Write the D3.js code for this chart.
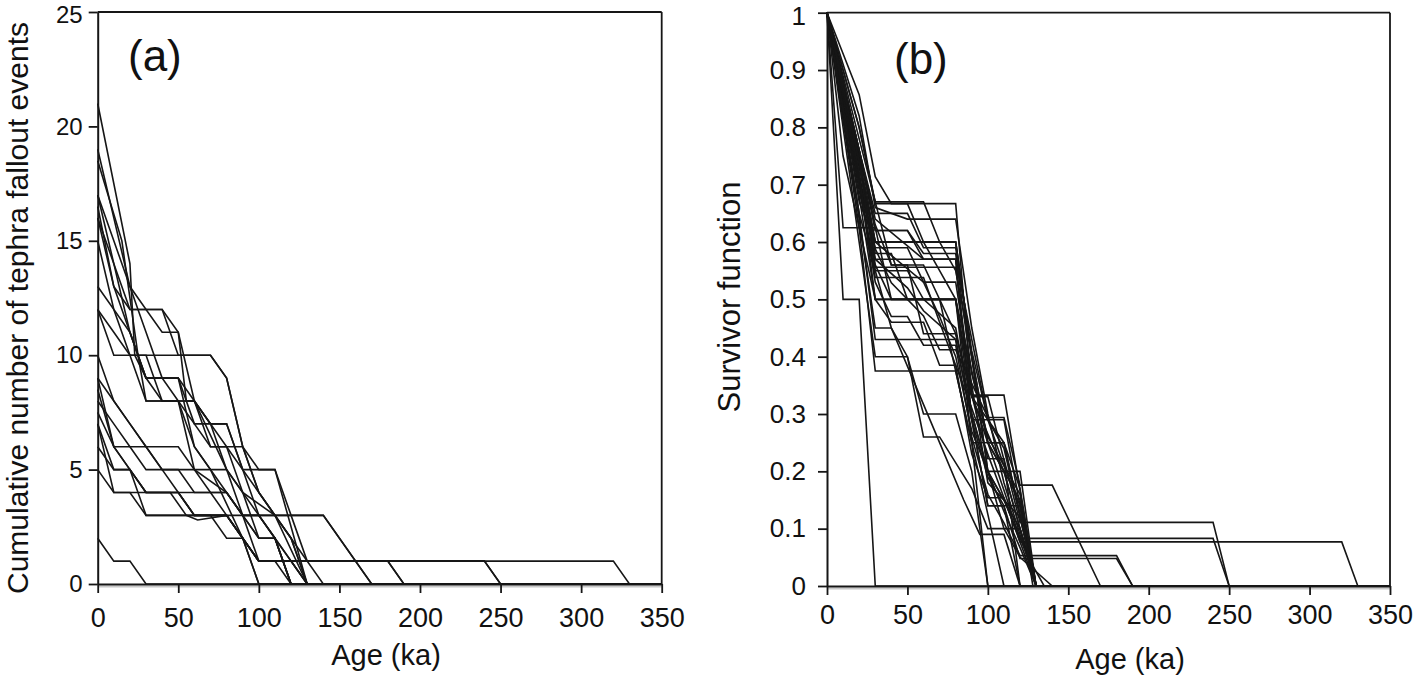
<!DOCTYPE html>
<html>
<head>
<meta charset="utf-8">
<script src="https://cdn.jsdelivr.net/npm/d3@7/dist/d3.min.js"></script>
<style>
  html, body { margin: 0; padding: 0; background: #fff; }
  svg { display: block; }
  text { font-family: "Liberation Sans", Arial, sans-serif; fill: #111; }
</style>
</head>
<body>
<svg id="chart" width="1416" height="682"></svg>
<script>
// ---------- DATA ----------
const ageTicks = [0, 50, 100, 150, 200, 250, 300, 350];
const countTicks = [0, 5, 10, 15, 20, 25];
const survTicks = [0, 0.1, 0.2, 0.3, 0.4, 0.5, 0.6, 0.7, 0.8, 0.9, 1];

const panelLabels = ["(a)", "(b)"];
const xTitle = "Age (ka)";
const yTitleA = "Cumulative number of tephra fallout events";
const yTitleB = "Survivor function";

// Panel (a): cumulative number of tephra fallout events, [age ka, count]
const cumA01 = [[0,21],[20,14],[23,10],[30,9],[40,8],[50,8],[60,6],[80,4],[90,3],[100,2],[110,2],[120,0]];
const cumA02 = [[0,19],[10,16],[20,13],[30,12],[40,12],[50,11],[55,8],[60,8],[70,7],[80,7],[90,5],[100,4],[110,3],[120,2],[130,0]];
const cumA03 = [[0,18.5],[15,15],[25,10],[30,8],[50,8],[60,5],[70,4],[80,4],[90,3],[100,1],[240,1],[250,0]];
const cumA04 = [[0,17],[10,15],[20,13],[25,12],[30,11],[40,9],[50,9],[60,8],[80,6],[90,6],[100,5],[110,5],[130,0]];
const cumA05 = [[0,16.5],[10,13],[20,11],[30,9],[50,9],[60,7],[80,7],[100,3],[140,3],[170,0]];
const cumA06 = [[0,16],[10,14],[20,12],[30,12],[40,11],[50,11],[60,8],[70,6],[80,6],[90,4],[100,3],[110,2],[130,0]];
const cumA07 = [[0,15],[10,12],[20,10],[30,8],[40,8],[60,8],[80,5],[90,3],[100,3],[110,2],[120,0]];
const cumA08 = [[0,13],[20,11],[30,9],[40,9],[50,9],[60,6],[70,5],[90,2],[100,1],[180,1],[190,0]];
const cumA09 = [[0,12],[10,10],[70,10],[80,9],[90,6],[100,4],[110,3],[120,2],[130,0]];
const cumA10 = [[0,10],[10,8],[20,7],[30,6],[40,5],[50,4],[60,3],[70,3],[80,3],[90,2],[100,0]];
const cumA11 = [[0,9],[10,8],[20,7],[30,6],[40,5],[50,5],[60,4],[70,4],[80,3],[100,1],[320,1],[330,0]];
const cumA12 = [[0,8.5],[10,6],[50,6],[60,5],[80,4],[90,3],[100,3],[110,2],[120,0]];
const cumA13 = [[0,8],[10,7],[20,6],[30,5],[80,5],[90,4],[100,2],[110,2],[120,0]];
const cumA14 = [[0,7.5],[10,6],[20,5],[30,4],[80,4],[90,3],[100,2],[110,2],[120,1],[130,0]];
const cumA15 = [[0,7],[10,5],[20,5],[30,3],[80,3],[90,2],[100,1],[240,1],[250,0]];
const cumA16 = [[0,7],[10,4],[20,4],[30,3],[60,3],[80,3],[90,2],[100,1],[110,1],[120,0]];
const cumA17 = [[0,6],[10,5],[20,5],[30,4],[50,4],[60,3],[70,3],[80,2],[90,2],[100,0]];
const cumA18 = [[0,5],[10,4],[45,4],[55,3],[62,2.8],[80,3],[90,2],[100,1],[120,1],[130,0]];
const cumA19 = [[0,2],[10,1],[20,1],[30,0]];
const cumA20 = [[0,17],[10,14],[20,11],[30,9],[40,9],[50,8],[60,7],[70,6],[80,6],[90,5],[100,5],[110,5],[120,3],[130,1],[180,1],[190,0]];
const cumA21 = [[0,9],[10,6],[20,5],[30,4],[50,4],[60,3],[80,3],[90,3],[100,3],[140,3],[170,0]];
const cumA22 = [[0,12],[10,11],[20,10],[30,10],[40,8],[60,8],[70,7],[80,5],[90,4],[110,3],[120,2],[140,0]];
const cumA23 = [[0,16],[10,13],[20,12],[30,12],[40,12],[50,10],[70,10],[80,9],[90,6],[100,4],[110,3],[130,0]];

const seriesA = [cumA01,cumA02,cumA03,cumA04,cumA05,cumA06,cumA07,cumA08,cumA09,cumA10,cumA11,cumA12,
                 cumA13,cumA14,cumA15,cumA16,cumA17,cumA18,cumA19,cumA20,cumA21,cumA22,cumA23];

// Panel (b): survivor function, [age ka, S]
const survB01 = [[0,1],[10,0.5],[20,0.5],[30,0]];
const survB02 = [[0,1],[20,0.857],[30,0.714],[40,0.667],[80,0.667],[90,0.333],[110,0.333],[130,0]];
const survB03 = [[0,1],[10,0.625],[30,0.625],[40,0.5],[80,0.5],[90,0.25],[110,0.25],[120,0.125],[130,0]];
const survB04 = [[0,1],[20,0.8],[30,0.667],[50,0.667],[60,0.6],[80,0.6],[90,0.4],[100,0.2],[120,0.2],[130,0]];
const survB05 = [[0,1],[20,0.76],[30,0.62],[50,0.62],[60,0.57],[80,0.57],[90,0.29],[110,0.29],[120,0.14],[130,0]];
const survB06 = [[0,1],[20,0.74],[30,0.6],[80,0.6],[90,0.4],[100,0.25],[110,0.2],[120,0.1],[130,0]];
const survB07 = [[0,1],[20,0.7],[30,0.59],[50,0.59],[60,0.53],[80,0.53],[90,0.35],[100,0.18],[120,0.12],[130,0]];
const survB08 = [[0,1],[20,0.72],[30,0.57],[80,0.57],[90,0.29],[100,0.14],[120,0.14],[130,0]];
const survB09 = [[0,1],[20,0.69],[30,0.556],[80,0.556],[90,0.333],[100,0.222],[110,0.222],[120,0.111],[240,0.111],[250,0]];
const survB10 = [[0,1],[20,0.68],[30,0.5],[80,0.5],[90,0.333],[100,0.25],[110,0.167],[120,0.083],[240,0.083],[250,0]];
const survB11 = [[0,1],[20,0.71],[30,0.538],[60,0.538],[70,0.46],[80,0.385],[90,0.31],[100,0.23],[110,0.154],[120,0.077],[320,0.077],[330,0]];
const survB12 = [[0,1],[20,0.706],[30,0.588],[40,0.529],[60,0.471],[70,0.412],[80,0.412],[90,0.353],[100,0.294],[110,0.294],[120,0.176],[140,0.176],[170,0]];
const survB13 = [[0,1],[20,0.7],[30,0.53],[40,0.47],[50,0.47],[60,0.42],[80,0.42],[90,0.26],[100,0.16],[110,0.11],[120,0.053],[180,0.053],[190,0]];
const survB14 = [[0,1],[20,0.71],[30,0.57],[50,0.52],[60,0.48],[80,0.43],[90,0.29],[100,0.19],[110,0.14],[120,0.048],[180,0.048],[190,0]];
const survB15 = [[0,1],[20,0.65],[30,0.43],[80,0.43],[90,0.29],[100,0.14],[110,0.14],[120,0]];
const survB16 = [[0,1],[20,0.625],[30,0.375],[80,0.375],[90,0.25],[100,0.125],[110,0]];
const survB17 = [[0,1],[20,0.6],[30,0.4],[50,0.4],[60,0.3],[80,0.3],[90,0.2],[100,0]];
const survB18 = [[0,1],[20,0.64],[30,0.45],[40,0.45],[50,0.4],[60,0.26],[70,0.26],[90,0.17],[100,0.1],[120,0.1],[130,0]];
const survB19 = [[0,1],[20,0.65],[40,0.45],[55,0.35],[70,0.25],[85,0.15],[95,0.09],[110,0.09],[120,0]];
const survB20 = [[0,1],[20,0.73],[30,0.6],[80,0.6],[90,0.4],[100,0.2],[120,0.1],[130,0]];
const survB21 = [[0,1],[20,0.75],[30,0.63],[40,0.56],[60,0.56],[80,0.44],[90,0.33],[110,0.2],[120,0.1],[130,0]];
const survB22 = [[0,1],[20,0.78],[30,0.67],[40,0.56],[50,0.56],[60,0.44],[80,0.44],[90,0.33],[100,0.33],[110,0.22],[120,0]];
const survB23 = [[0,1],[20,0.8],[30,0.67],[60,0.67],[70,0.6],[80,0.55],[100,0.25],[110,0.2],[120,0.15],[130,0]];
const survB24 = [[0,1],[15,0.82],[25,0.7],[30,0.62],[50,0.62],[60,0.58],[80,0.58],[90,0.37],[100,0.26],[110,0.21],[120,0.16],[130,0]];
const survB25 = [[0,1],[20,0.75],[30,0.56],[40,0.5],[80,0.5],[90,0.375],[100,0.25],[110,0.25],[120,0.125],[130,0]];
const survB26 = [[0,1],[20,0.67],[30,0.6],[60,0.53],[70,0.47],[80,0.4],[90,0.27],[100,0.2],[110,0.13],[120,0.067],[130,0]];
const survB27 = [[0,1],[10,0.75],[20,0.625],[30,0.5],[70,0.5],[80,0.375],[90,0.25],[100,0]];
const survB28 = [[0,1],[20,0.76],[30,0.65],[50,0.65],[60,0.59],[80,0.59],[90,0.41],[100,0.29],[110,0.24],[120,0.12],[130,0]];
const survB29 = [[0,1],[10,0.83],[20,0.75],[30,0.58],[40,0.58],[50,0.5],[80,0.5],[90,0.33],[110,0.25],[120,0.17],[130,0]];
const survB30 = [[0,1],[20,0.72],[30,0.5],[40,0.46],[60,0.46],[70,0.385],[80,0.385],[90,0.23],[100,0.154],[110,0.154],[120,0.077],[130,0]];
const survB31 = [[0,1],[15,0.8],[25,0.68],[30,0.6],[60,0.6],[70,0.55],[80,0.5],[90,0.3],[100,0.2],[110,0.15],[125,0.05],[135,0]];
const survB32 = [[0,1],[20,0.82],[30,0.66],[50,0.64],[80,0.64],[90,0.45],[100,0.3],[110,0.18],[120,0.09],[130,0]];
const survB33 = [[0,1],[25,0.7],[30,0.64],[60,0.57],[80,0.57],[90,0.43],[100,0.29],[110,0.21],[120,0.14],[128,0]];
const survB34 = [[0,1],[20,0.74],[30,0.55],[50,0.55],[60,0.5],[80,0.45],[90,0.3],[100,0.2],[110,0.1],[120,0.05],[140,0]];

const seriesB = [survB01,survB02,survB03,survB04,survB05,survB06,survB07,survB08,survB09,survB10,
                 survB11,survB12,survB13,survB14,survB15,survB16,survB17,survB18,survB19,survB20,
                 survB21,survB22,survB23,survB24,survB25,survB26,survB27,survB28,survB29,survB30,
                 survB31,survB32,survB33,survB34];

// ---------- DRAW ----------
const svg = d3.select("#chart");

const xA = d3.scaleLinear().domain([0, 350]).range([97.7, 661.7]);
const yA = d3.scaleLinear().domain([0, 25]).range([584, 12]);
const xB = d3.scaleLinear().domain([0, 350]).range([827, 1390]);
const yB = d3.scaleLinear().domain([0, 1]).range([586, 12.7]);

function extendToEnd(s, x) {
  const last = s[s.length - 1];
  const xmax = x.domain()[1];
  return last[0] < xmax ? s.concat([[xmax, last[1]]]) : s;
}

function drawPanel(cfg) {
  const { x, y, series, yTicks, yFont, xFont, yPad, xPad, yFmt } = cfg;
  const g = svg.append("g");

  // faint grey line just under the baseline
  g.append("line")
    .attr("x1", x(0)).attr("x2", x(350))
    .attr("y1", y(0) + 2.5).attr("y2", y(0) + 2.5)
    .attr("stroke", "#c8c8c8").attr("stroke-width", 2);

  const line = d3.line().x(d => x(d[0])).y(d => y(d[1]));
  g.append("g").selectAll("path")
    .data(series)
    .join("path")
    .attr("d", s => line(extendToEnd(s, x)))
    .attr("fill", "none")
    .attr("stroke", "#161616")
    .attr("stroke-width", 1.6)
    .attr("stroke-linejoin", "miter");

  // frame (top and right)
  const [ymin, ymax] = y.domain();
  g.append("line").attr("x1", x(0)).attr("x2", x(350)).attr("y1", y(ymax)).attr("y2", y(ymax))
    .attr("stroke", "#161616").attr("stroke-width", 1.8);
  g.append("line").attr("x1", x(350)).attr("x2", x(350)).attr("y1", y(ymin)).attr("y2", y(ymax))
    .attr("stroke", "#161616").attr("stroke-width", 1.8);

  const ax = g.append("g").attr("transform", `translate(0,${y(0)})`)
    .call(d3.axisBottom(x).tickValues(ageTicks).tickSize(9).tickPadding(xPad).tickSizeOuter(0));
  ax.selectAll("text").style("font-size", xFont + "px");

  const ay = g.append("g").attr("transform", `translate(${x(0)},0)`)
    .call(d3.axisLeft(y).tickValues(yTicks).tickSize(9).tickPadding(yPad).tickSizeOuter(0).tickFormat(yFmt));
  ay.selectAll("text").style("font-size", yFont + "px");
  // keep the topmost label fully inside the picture
  ay.selectAll(".tick").filter(d => d === ymax).select("text").attr("y", 3);

  [ax, ay].forEach(a => {
    a.select(".domain").attr("stroke", "#161616").attr("stroke-width", 2);
    a.selectAll(".tick line").attr("stroke", "#161616").attr("stroke-width", 1.8);
    a.selectAll("text").attr("fill", "#111").style("font-family", '"Liberation Sans", Arial, sans-serif');
  });
  return g;
}

drawPanel({ x: xA, y: yA, series: seriesA, yTicks: countTicks, yFont: 24, xFont: 27,
            yPad: 6, xPad: 15, yFmt: d => String(d) });
drawPanel({ x: xB, y: yB, series: seriesB, yTicks: survTicks, yFont: 26, xFont: 27,
            yPad: 12, xPad: 10, yFmt: d => String(d) });

// panel letters
svg.append("text").attr("x", 128).attr("y", 71).style("font-size", "44px").text(panelLabels[0]);
svg.append("text").attr("x", 894).attr("y", 74).style("font-size", "44px").text(panelLabels[1]);

// axis titles
svg.append("text").attr("x", 386).attr("y", 665).attr("text-anchor", "middle")
  .style("font-size", "29px").text(xTitle);
svg.append("text").attr("x", 1130).attr("y", 669).attr("text-anchor", "middle")
  .style("font-size", "29px").text(xTitle);

svg.append("text").attr("transform", "translate(27.5,308) rotate(-90)").attr("text-anchor", "middle")
  .style("font-size", "30px").text(yTitleA);
svg.append("text").attr("transform", "translate(740,297) rotate(-90)").attr("text-anchor", "middle")
  .style("font-size", "31px").text(yTitleB);
</script>
</body>
</html>
